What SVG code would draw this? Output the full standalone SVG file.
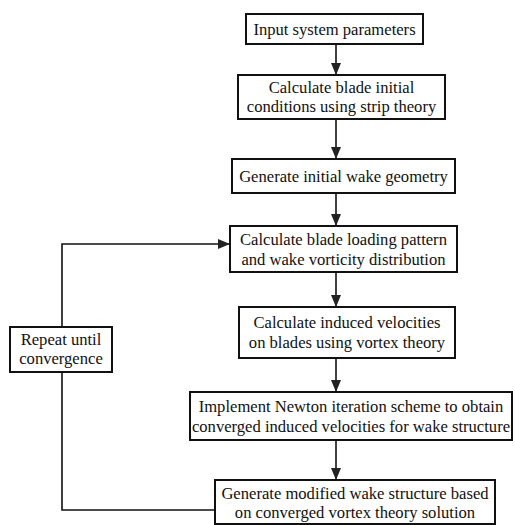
<svg xmlns="http://www.w3.org/2000/svg" width="515" height="525" viewBox="0 0 515 525">
<style>
.box{fill:#fff;stroke:#111;stroke-width:2}
.t{font-family:"Liberation Serif","Times New Roman",serif;font-size:16.6px;fill:#111;text-anchor:middle}
.c{fill:none;stroke:#111;stroke-width:1.6}
</style>
<defs>
<marker id="ah" viewBox="0 0 12 10" refX="12" refY="5" markerWidth="12" markerHeight="10" markerUnits="userSpaceOnUse" orient="auto">
<path d="M0,0 L12,5 L0,10 Z" fill="#222"/>
</marker>
</defs>
<rect width="515" height="525" fill="#fff"/>
<g id="connectors">
<line class="c" x1="336" y1="44" x2="336" y2="75" marker-end="url(#ah)"/>
<line class="c" x1="336" y1="119" x2="336" y2="159" marker-end="url(#ah)"/>
<line class="c" x1="336" y1="193" x2="336" y2="226" marker-end="url(#ah)"/>
<line class="c" x1="336" y1="272" x2="336" y2="307" marker-end="url(#ah)"/>
<line class="c" x1="336" y1="358" x2="336" y2="392" marker-end="url(#ah)"/>
<line class="c" x1="336" y1="440" x2="336" y2="480" marker-end="url(#ah)"/>
<polyline class="c" points="62,327 62,244 230,244" marker-end="url(#ah)"/>
<polyline class="c" points="62,372 62,510 215,510"/>
</g>
<g id="n1"><rect class="box" x="246" y="14" width="177" height="30"/><text class="t" x="334.5" y="34.5">Input system parameters</text></g>
<g id="n2"><rect class="box" x="238" y="75" width="207" height="44"/><text class="t" x="341.5" y="93">Calculate blade initial</text><text class="t" x="341.5" y="112">conditions using strip theory</text></g>
<g id="n3"><rect class="box" x="232" y="159" width="223" height="34"/><text class="t" x="343.5" y="181.5">Generate initial wake geometry</text></g>
<g id="n4"><rect class="box" x="230" y="226" width="227" height="46"/><text class="t" x="343.5" y="245">Calculate blade loading pattern</text><text class="t" x="343.5" y="265">and wake vorticity distribution</text></g>
<g id="n5"><rect class="box" x="239" y="307" width="216" height="51"/><text class="t" x="347" y="328">Calculate induced velocities</text><text class="t" x="347" y="348">on blades using vortex theory</text></g>
<g id="n6"><rect class="box" x="190" y="392" width="322" height="48"/><text class="t" x="351" y="412">Implement Newton iteration scheme to obtain</text><text class="t" x="351" y="432">converged induced velocities for wake structure</text></g>
<g id="n7"><rect class="box" x="215" y="480" width="280" height="44"/><text class="t" x="355" y="499">Generate modified wake structure based</text><text class="t" x="355" y="518">on converged vortex theory solution</text></g>
<g id="n8"><rect class="box" x="10" y="327" width="102" height="45"/><text class="t" x="61" y="345">Repeat until</text><text class="t" x="61" y="364">convergence</text></g>
</svg>
